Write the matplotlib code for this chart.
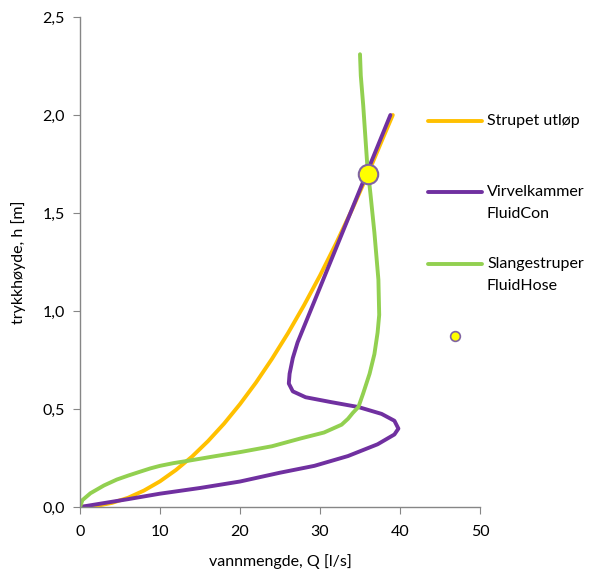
import matplotlib
matplotlib.use('Agg')
import matplotlib.pyplot as plt
from matplotlib.lines import Line2D
from matplotlib.ticker import FuncFormatter

# Strupet utløp
q_strupet = [0, 2, 4, 6, 8, 10, 12, 14, 16, 18, 20, 22, 24, 26, 28, 30, 32, 34, 36, 38, 39.1]
h_strupet = [0, 0.005, 0.021, 0.047, 0.084, 0.131, 0.189, 0.257, 0.336, 0.425, 0.525,
             0.635, 0.756, 0.887, 1.029, 1.181, 1.344, 1.517, 1.701, 1.895, 2.0]

# Virvelkammer FluidCon
q_virvel = [0, 3, 6, 10, 15, 20, 25, 29.3, 33.5, 37.2, 39.3, 39.8, 39.3, 37.7, 34.8, 31.4,
            28.2, 26.6, 26.1, 26.2, 26.6, 27.2, 28.0, 29.3, 31.4, 33.5, 35.2, 37.0, 38.8]
h_virvel = [0, 0.02, 0.04, 0.068, 0.097, 0.13, 0.175, 0.21, 0.26, 0.32, 0.37, 0.40, 0.44,
            0.475, 0.51, 0.535, 0.56, 0.59, 0.63, 0.68, 0.76, 0.84, 0.92, 1.05, 1.26, 1.47,
            1.64, 1.82, 2.0]

# Slangestruper FluidHose
q_slange = [0, 0.3, 1.3, 3.0, 4.6, 6.0, 7.5, 8.8, 10, 11.7, 13.4, 17, 20, 24, 27.6, 30.5,
            32.7, 33.5, 34.1, 34.8, 35.4, 36.2, 36.8, 37.2, 37.4, 37.3, 36.8, 36.3, 35.9,
            35.4, 35.1, 35.0]
h_slange = [0, 0.035, 0.07, 0.11, 0.14, 0.16, 0.18, 0.197, 0.21, 0.224, 0.235, 0.26, 0.28,
            0.31, 0.35, 0.38, 0.42, 0.45, 0.48, 0.51, 0.58, 0.68, 0.78, 0.89, 0.98, 1.16,
            1.40, 1.60, 1.75, 2.05, 2.2, 2.31]

# arbeidspunkt
q_punkt = [36.0]
h_punkt = [1.70]

labels = ['Strupet utløp', 'Virvelkammer\nFluidCon', 'Slangestruper\nFluidHose', '']
colors = ['#FFC000', '#7030A0', '#92D050']

plt.rcParams['font.family'] = ['Lato', 'DejaVu Sans']
fs = 11.5

fig = plt.figure(figsize=(5.94, 5.73), dpi=100)
ax = fig.add_axes([80 / 594, 66 / 573, 400 / 594, 490 / 573])

lw = 2.8
ax.plot(q_strupet, h_strupet, color=colors[0], lw=lw, solid_capstyle='round', solid_joinstyle='round')
ax.plot(q_virvel, h_virvel, color=colors[1], lw=lw, solid_capstyle='round', solid_joinstyle='round')
ax.plot(q_slange, h_slange, color=colors[2], lw=lw, solid_capstyle='round', solid_joinstyle='round')
ax.plot(q_punkt, h_punkt, 'o', ms=14, mfc='#FFFF00', mec='#8064A2', mew=1.5, zorder=5)

ax.set_xlim(0, 50)
ax.set_ylim(0, 2.5)
ax.set_xticks([0, 10, 20, 30, 40, 50])
ax.set_yticks([0, 0.5, 1.0, 1.5, 2.0, 2.5])
ax.yaxis.set_major_formatter(FuncFormatter(lambda v, p: f'{v:.1f}'.replace('.', ',')))
for s in ['top', 'right']:
    ax.spines[s].set_visible(False)
for s in ['left', 'bottom']:
    ax.spines[s].set_color('#868686')
    ax.spines[s].set_linewidth(1.0)
ax.tick_params(colors='#868686', labelcolor='black', labelsize=fs, length=5, direction='out')
ax.tick_params(axis='x', pad=8)
ax.tick_params(axis='y', pad=6)

ax.set_xlabel('vannmengde, Q [l/s]', fontsize=fs, labelpad=11)
ax.set_ylabel('trykkhøyde, h [m]', fontsize=fs, labelpad=12)

# manuell tegnforklaring (Excel-stil)
leg_y = [121, 192, 264, 336]
for i, lab in enumerate(labels):
    yf = 1 - leg_y[i] / 573
    if i < 3:
        fig.add_artist(Line2D([428 / 594, 482 / 594], [yf, yf], color=colors[i], lw=lw,
                              solid_capstyle='round', transform=fig.transFigure))
        fig.text(487 / 594, yf + 7 / 573, lab, fontsize=fs, va='top', ha='left',
                 linespacing=1.75)
    else:
        fig.add_artist(Line2D([455 / 594], [yf], marker='o', ms=7, mfc='#FFFF00',
                              mec='#8064A2', mew=1.2, transform=fig.transFigure))

fig.savefig('out.png', dpi=100)
